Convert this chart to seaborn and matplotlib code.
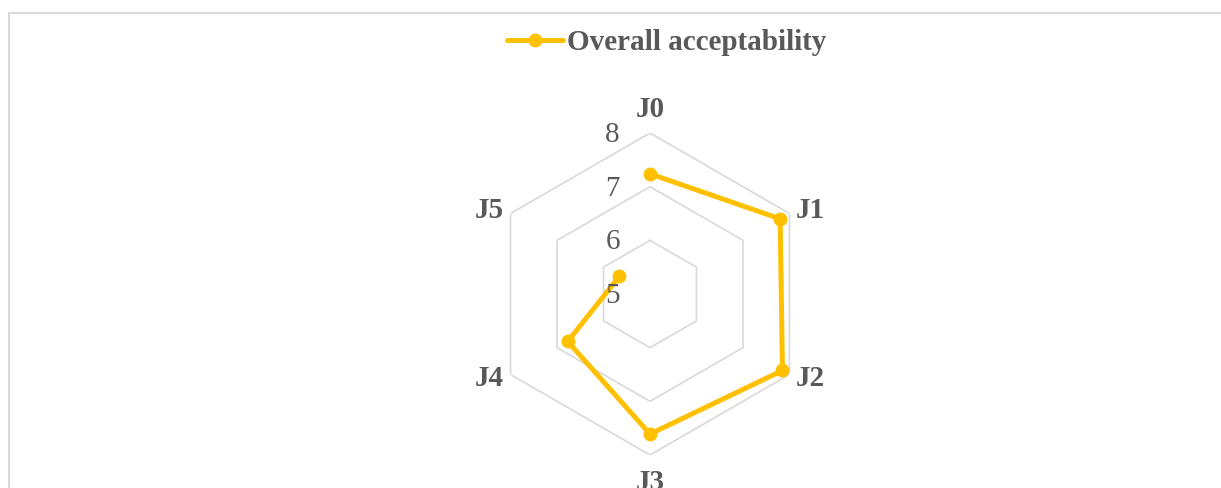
import numpy as np
import pandas as pd
import matplotlib
matplotlib.use("Agg")
import matplotlib.pyplot as plt
import matplotlib.transforms as mtransforms
from matplotlib.patches import Rectangle
import seaborn as sns

categories = ["J0", "J1", "J2", "J3", "J4", "J5"]
values = [7.24, 7.80, 7.85, 7.61, 6.77, 5.66]
series_name = "Overall acceptability"
r_ticks = [5, 6, 7, 8]

sns.set_style("white")
plt.rcParams["font.family"] = ["Liberation Serif", "DejaVu Serif"]

GOLD = "#FFC000"
TXT = "#595959"
GRID = "#D9D9D9"
FS = 21

W, H = 1221, 488
fig = plt.figure(figsize=(W / 100, H / 100), dpi=100)
cx, cy, R = 650, 294, 161
ax = fig.add_axes([(cx - R) / W, (H - cy - R) / H, 2 * R / W, 2 * R / H], projection="polar")
ax.set_theta_zero_location("N")
ax.set_theta_direction(-1)
ax.set_ylim(r_ticks[0], r_ticks[-1])

n = len(categories)
angles = np.arange(n) * 2 * np.pi / n
ang_closed = np.append(angles, angles[0])

# hexagonal grid
for rv in r_ticks[1:]:
    ax.plot(ang_closed, [rv] * (n + 1), color=GRID, lw=1.2, zorder=1)

df = pd.DataFrame({"theta": ang_closed, "r": values + [values[0]]})
sns.lineplot(data=df, x="theta", y="r", sort=False, ax=ax, color=GOLD,
             lw=3.6, marker="o", markersize=10, markeredgewidth=0,
             label=series_name, zorder=3, legend=False)

ax.grid(False)
ax.spines["polar"].set_visible(False)
ax.set_yticks([])
ax.set_xticks([])
ax.set_xlabel("")
ax.set_ylabel("")

# category labels placed around the outer ring (pixel offsets)
label_offsets = [(0, 23.5), (21, 3), (21, -3.5), (0, -27), (-21, -3.5), (-21, 3)]
for ang, cat, (dx, dy) in zip(angles, categories, label_offsets):
    tr = ax.transData + mtransforms.ScaledTranslation(dx / 100, dy / 100, fig.dpi_scale_trans)
    ax.text(ang, r_ticks[-1], cat, transform=tr, ha="center", va="center",
            fontsize=FS, fontweight="bold", color=TXT, clip_on=False)

off = mtransforms.ScaledTranslation(-30 / 100, -2 / 100, fig.dpi_scale_trans)
for rv in r_ticks:
    ax.text(0, rv, str(rv), transform=ax.transData + off, ha="right", va="center",
            fontsize=FS, color=TXT)

handles, labels = ax.get_legend_handles_labels()
leg = fig.legend(handles, labels, loc="center left", bbox_to_anchor=(507 / W, 1 - 43 / H),
                 frameon=False, handlelength=1.92, handletextpad=0.14,
                 borderpad=0, borderaxespad=0,
                 prop={"size": FS, "weight": "bold"})
for t in leg.get_texts():
    t.set_color(TXT)

fig.patches.append(Rectangle((9 / W, -0.1), 1.2, 1.1 - 13 / H, transform=fig.transFigure,
                             fill=False, edgecolor=GRID, lw=1.5))

fig.savefig("out.png", dpi=100)
